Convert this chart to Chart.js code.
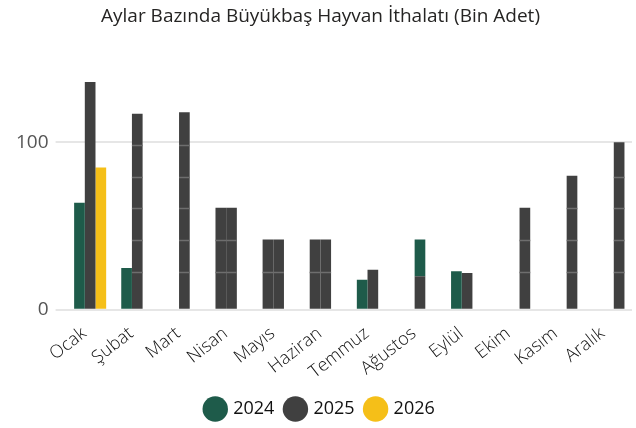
<!DOCTYPE html>
<html>
<head>
<meta charset="utf-8">
<script src="https://cdn.jsdelivr.net/npm/chart.js@4.4.1/dist/chart.umd.min.js"></script>
<style>
  html, body { margin: 0; padding: 0; background: #fff; }
  #wrap { width: 636px; height: 428px; }
</style>
</head>
<body>
<div id="wrap"><canvas id="ithalatChart"></canvas></div>
<script>
// aylar
const aylar = ['Ocak', 'Şubat', 'Mart', 'Nisan', 'Mayıs', 'Haziran', 'Temmuz', 'Ağustos', 'Eylül', 'Ekim', 'Kasım', 'Aralık'];

// bin adet
const yil2024 = [64, 25, null, 61, 42, 42, 18, null, 23, null, null, null];
const yil2025 = [136, 117, 118, 61, 42, 42, 24, 20, 22, null, null, null];
const yil2025Ek = [null, null, null, null, null, null, null, 22, null, null, null, null]; // Agustos ust parca
const yil2026 = [85, null, null, null, null, null, null, null, null, 61, 80, 100];
const yTikler = [0, 100];

const YESIL = '#1E5B4A';
const GRI = '#404040';
const SARI = '#F5BF18';

// bazi aylarda cubuklar gri cizilmis
const renk2024 = ['Nisan', 'Mayıs', 'Haziran'];
const renk2026 = ['Ekim', 'Kasım', 'Aralık'];
const seritliAylar = ['Şubat', 'Mart', 'Nisan', 'Mayıs', 'Haziran', 'Ağustos', 'Ekim', 'Kasım', 'Aralık'];

const col2024 = aylar.map(a => renk2024.includes(a) ? GRI : YESIL);
const col2026 = aylar.map(a => renk2026.includes(a) ? GRI : SARI);

// gri cubuklardaki ince cizgiler
const seritPlugin = {
  id: 'serit',
  afterDatasetsDraw(chart) {
    const ctx = chart.ctx;
    const y = chart.scales.y;
    ctx.save();
    ctx.strokeStyle = '#6e6e6e';
    ctx.lineWidth = 1.5;
    chart.data.datasets.forEach((ds, di) => {
      const meta = chart.getDatasetMeta(di);
      meta.data.forEach((bar, i) => {
        if (ds.data[i] == null) return;
        const c = Array.isArray(ds.backgroundColor) ? ds.backgroundColor[i] : ds.backgroundColor;
        if (c !== GRI || !seritliAylar.includes(aylar[i])) return;
        const half = bar.width / 2;
        for (let v = 22.5; v < ds.data[i] - 3; v += 19) {
          const py = Math.round(y.getPixelForValue(v)) + 0.5;
          ctx.beginPath();
          ctx.moveTo(bar.x - half, py);
          ctx.lineTo(bar.x + half, py);
          ctx.stroke();
        }
      });
    });
    ctx.restore();
  }
};

const ctx = document.getElementById('ithalatChart').getContext('2d');
const chart = new Chart(ctx, {
  type: 'bar',
  data: {
    labels: aylar,
    datasets: [
      { label: '2024', data: yil2024, backgroundColor: col2024, stack: 'a' },
      { label: '2025', data: yil2025, backgroundColor: GRI, stack: 'b' },
      { label: '2026', data: yil2026, backgroundColor: col2026, stack: 'c' },
      { label: 'ek', data: yil2025Ek, backgroundColor: YESIL, stack: 'b' }
    ]
  },
  options: {
    responsive: true,
    maintainAspectRatio: false,
    animation: false,
    layout: { padding: { left: 9, right: 4, top: 3, bottom: 0 } },
    datasets: {
      bar: { categoryPercentage: 0.68, barPercentage: 1.0, borderWidth: 0 }
    },
    plugins: {
      title: {
        display: true,
        text: 'Aylar Bazında Büyükbaş Hayvan İthalatı (Bin Adet)',
        color: '#252423',
        font: { family: 'Open Sans', size: 19, weight: 'normal' },
        padding: { top: 2, bottom: 14 }
      },
      legend: {
        position: 'bottom',
        labels: {
          usePointStyle: true,
          pointStyle: 'circle',
          boxWidth: 20,
          boxHeight: 20,
          color: '#111',
          font: { family: 'Open Sans', size: 18 },
          padding: 12,
          filter: item => item.datasetIndex < 3,
          generateLabels(ch) {
            const renkler = [YESIL, GRI, SARI];
            return ch.data.datasets.slice(0, 3).map((ds, i) => ({
              text: ds.label,
              fillStyle: renkler[i],
              strokeStyle: renkler[i],
              lineWidth: 0,
              pointStyle: 'circle',
              datasetIndex: i,
              fontColor: '#111'
            }));
          }
        }
      },
      tooltip: { enabled: false }
    },
    scales: {
      x: {
        stacked: true,
        grid: { display: false },
        border: { display: false },
        ticks: {
          minRotation: 38,
          maxRotation: 38,
          color: '#111',
          font: { family: 'Open Sans', size: 18, weight: 300 },
          padding: 5,
          labelOffset: -6
        }
      },
      y: {
        stacked: true,
        min: 0,
        max: 160,
        afterBuildTicks(axis) {
          axis.ticks = yTikler.map(v => ({ value: v }));
        },
        grid: { color: '#e6e6e6', lineWidth: 2, drawTicks: true, tickLength: 11, tickColor: '#e6e6e6' },
        border: { display: false },
        ticks: {
          color: '#555',
          font: { family: 'Open Sans', size: 19 },
          padding: 7
        }
      }
    }
  },
  plugins: [seritPlugin]
});
</script>
</body>
</html>
